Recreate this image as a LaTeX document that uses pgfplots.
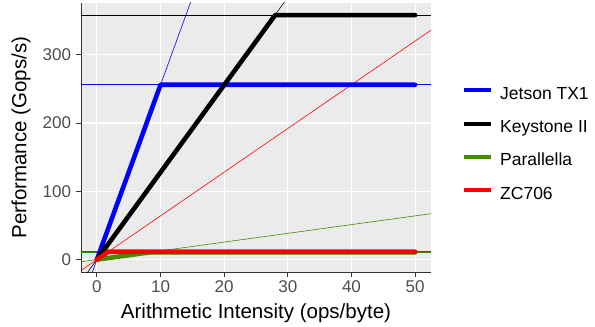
\documentclass[border=0pt]{standalone}
\usepackage{pgfplots}
\pgfplotsset{compat=1.18}
\usepackage{fontspec}
\setmainfont{Liberation Sans}
\definecolor{panelbg}{HTML}{EBEBEB}
\definecolor{tickgrey}{HTML}{4D4D4D}
\definecolor{axgrey}{HTML}{333333}
\definecolor{pgreen}{HTML}{458B00}
\begin{document}
\begin{tikzpicture}
\useasboundingbox (0,0) rectangle (595bp,327bp);
\begin{axis}[
  at={(81bp,55bp)}, anchor=south west,
  scale only axis, width=350bp, height=269bp,
  xmin=-2.5, xmax=52.5, ymin=-18.2, ymax=375.8,
  axis x line*=bottom, axis y line*=left,
  axis line style={-, line width=1bp, color=axgrey},
  axis background/.style={fill=panelbg},
  xtick={0,10,20,30,40,50}, ytick={0,100,200,300},
  grid=major, major grid style={white, line width=1.1bp},
  tick style={line width=1bp, color=axgrey},
  tick align=outside, major tick length=4.5bp,
  /pgf/number format/assume math mode=true,
  ticklabel style={font=\fontsize{17bp}{20bp}\selectfont, text=tickgrey},
  yticklabel style={xshift=-2bp},
  xticklabel style={yshift=-1bp},
  xlabel={Arithmetic Intensity (ops/byte)},
  xlabel style={at={(rel axis cs:0.5,0)}, anchor=base, yshift=-46bp, font=\fontsize{20.5bp}{24bp}\selectfont},
  clip=true,
  legend style={at={(rel axis cs:1,1)}, anchor=north west, xshift=31bp, yshift=-84bp,
    draw=none, fill=none, font=\fontsize{17.5bp}{20bp}\selectfont,
    row sep=19.5bp, inner sep=0pt,
    nodes={inner sep=0pt}},
  legend cell align=left,
  legend image code/.code={\draw[#1, line width=4bp, line cap=butt] (0bp,0.35em) -- (27bp,0.35em);},
  /tikz/every odd column/.append style={column sep=7bp},
]
% thin roof lines (abline and hline)
\addplot[blue, line width=0.6bp, forget plot] coordinates {(-2.5,-64) (15,384)};
\addplot[blue, line width=0.6bp, forget plot] coordinates {(-2.5,256) (52.5,256)};
\addplot[black, line width=0.6bp, forget plot] coordinates {(-2.5,-32) (30,384)};
\addplot[black, line width=0.6bp, forget plot] coordinates {(-2.5,358) (52.5,358)};
\addplot[pgreen, line width=0.6bp, forget plot] coordinates {(-2.5,-3.2) (52.5,67.2)};
\addplot[pgreen, line width=0.6bp, forget plot] coordinates {(-2.5,10.5) (52.5,10.5)};
\addplot[red, line width=0.6bp, forget plot] coordinates {(-2.5,-16) (52.5,336)};
\addplot[red, line width=0.6bp, forget plot] coordinates {(-2.5,11.5) (52.5,11.5)};
% thick achievable performance
\addplot[blue, line width=4.6bp, line cap=round, line join=round] coordinates {(0,0) (10,256) (50,256)};
\addplot[black, line width=4.6bp, line cap=round, line join=round] coordinates {(0,0) (28,358) (50,358)};
\addplot[pgreen, line width=4.6bp, line cap=round, line join=round] coordinates {(0,0) (8.2,10.5) (50,10.5)};
\addplot[red, line width=4.6bp, line cap=round, line join=round] coordinates {(0,0) (1.8,11.5) (50,11.5)};
\legend{Jetson TX1, Keystone II, Parallella, ZC706}
\end{axis}
\node[rotate=90, anchor=center, font=\fontsize{20.5bp}{24bp}\selectfont] at (21bp,189.5bp) {Performance (Gops/s)};
\end{tikzpicture}
\end{document}
